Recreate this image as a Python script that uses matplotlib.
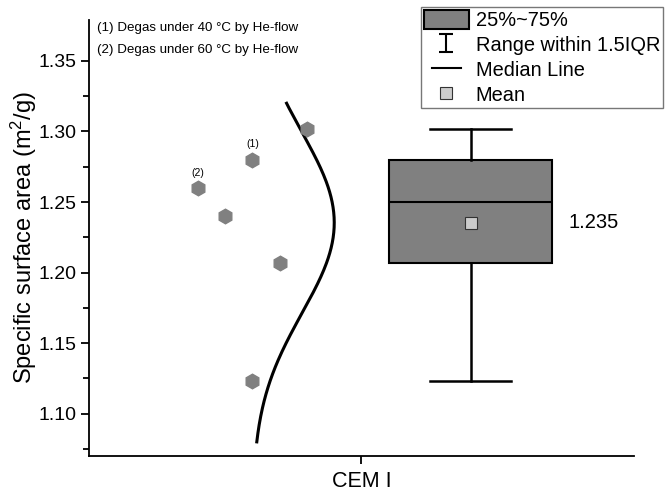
import numpy as np
import matplotlib
matplotlib.use('Agg')
import matplotlib.pyplot as plt
from matplotlib.patches import Patch
from matplotlib.lines import Line2D
from matplotlib.legend_handler import HandlerLine2D, HandlerErrorbar

plt.rcParams['font.family'] = ['Liberation Sans', 'DejaVu Sans']
plt.rcParams['mathtext.fontset'] = 'custom'
plt.rcParams['mathtext.rm'] = 'Liberation Sans'
plt.rcParams['mathtext.it'] = 'Liberation Sans:italic'

# measured specific surface areas, CEM I (m2/g)
ssa = [1.302, 1.280, 1.260, 1.240, 1.207, 1.123]
jitter = [0.8, 0.6, 0.4, 0.5, 0.7, 0.6]
category = ['CEM I']
notes = ['(1) Degas under 40 \u00b0C by He-flow', '(2) Degas under 60 \u00b0C by He-flow']
marks = {'(1)': 1, '(2)': 2}

data = np.sort(np.array(ssa))
n = len(data)
half = (n + 1) // 2
q1 = np.median(data[:half])
q3 = np.median(data[n - half:])
med = np.median(data)
mean = np.mean(data)
sd = np.std(data, ddof=1)
iqr = q3 - q1
lo = data[data >= q1 - 1.5 * iqr].min()
hi = data[data <= q3 + 1.5 * iqr].max()

fig = plt.figure(figsize=(6.65, 4.93), dpi=100)
ax = fig.add_axes([0.1338, 0.0751, 0.8196, 0.8843])

stats = [dict(med=med, q1=q1, q3=q3, whislo=lo, whishi=hi, mean=mean, fliers=[])]
ax.bxp(stats, positions=[1.4], widths=0.6, capwidths=0.3, showmeans=True,
       patch_artist=True,
       boxprops=dict(facecolor='#808080', edgecolor='black', linewidth=1.5),
       medianprops=dict(color='black', linewidth=1.5),
       whiskerprops=dict(color='black', linewidth=1.8),
       capprops=dict(color='black', linewidth=1.8),
       meanprops=dict(marker='s', markerfacecolor='#cccccc', markeredgecolor='#333333',
                      markersize=8, markeredgewidth=0.8))
ax.text(1.4 + 0.36, mean, f'{mean:.3f}', fontsize=14.5, va='center', ha='left')

# normal curve from the sample mean and sd
yy = np.linspace(1.08, 1.32, 200)
xx = 0.6 + 0.3 * np.exp(-(yy - mean) ** 2 / (2 * sd ** 2))
ax.plot(xx, yy, color='black', linewidth=2.2, zorder=2)

ax.plot(jitter, ssa, linestyle='none', marker='h', markersize=10.5,
        color='#808080', zorder=3)
for lab, idx in marks.items():
    ax.annotate(lab, (jitter[idx], ssa[idx]), xytext=(0, 11), textcoords='offset points',
                ha='center', va='center', fontsize=7.5)

for i, t in enumerate(notes):
    ax.text(0.015, 0.982 - i * 0.05, t, transform=ax.transAxes, fontsize=9.6,
            ha='left', va='center')

ax.set_xlim(0, 2)
ax.set_ylim(1.07, 1.379)
ax.set_xticks([1])
ax.set_xticklabels(category, fontsize=15.5)
ax.set_yticks(np.arange(1.10, 1.36, 0.05))
ax.set_yticks(np.arange(1.075, 1.37, 0.05), minor=True)
ax.yaxis.set_major_formatter(plt.FormatStrFormatter('%.2f'))
ax.tick_params(axis='y', labelsize=14, length=6, width=1.3, direction='out', pad=3)
ax.tick_params(axis='y', which='minor', length=4, width=1.3)
ax.tick_params(axis='x', length=6, width=1.3, pad=5)
ax.set_ylabel('Specific surface area (m$^2$/g)', fontsize=17, labelpad=-0.5)
for s in ['top', 'right']:
    ax.spines[s].set_visible(False)
for s in ['left', 'bottom']:
    ax.spines[s].set_linewidth(1.3)

eb = ax.errorbar([np.nan], [np.nan], yerr=[1], fmt='none', ecolor='black',
                 elinewidth=1.5, capsize=5, capthick=1.5)
med_line = Line2D([], [], color='black', linewidth=1.5)
handles = [Patch(facecolor='#808080', edgecolor='black', linewidth=1.5),
           eb,
           med_line,
           Line2D([], [], linestyle='none', marker='s', markerfacecolor='#cccccc',
                  markeredgecolor='#333333', markersize=8, markeredgewidth=0.8)]
labels = ['25%~75%', 'Range within 1.5IQR', 'Median Line', 'Mean']
leg = fig.legend(handles, labels, loc='upper right', bbox_to_anchor=(0.997, 0.986),
                 fontsize=14.4, frameon=True, fancybox=False, edgecolor='#555555',
                 handlelength=2.25, handleheight=1.1, labelspacing=0.22,
                 borderpad=0.15, handletextpad=0.35, borderaxespad=0,
                 handler_map={med_line: HandlerLine2D(marker_pad=0.4, numpoints=2),
                              type(eb): HandlerErrorbar(yerr_size=0.45)})
leg.get_frame().set_linewidth(1.0)

fig.savefig('out.png', dpi=100)
